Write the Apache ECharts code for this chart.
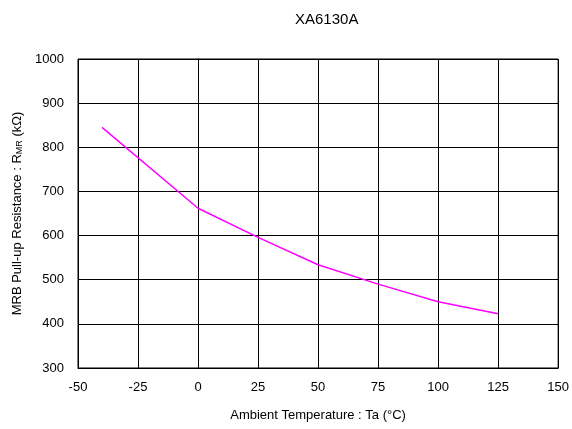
<!DOCTYPE html>
<html>
<head>
<meta charset="utf-8">
<script src="https://cdn.jsdelivr.net/npm/echarts@6/dist/echarts.min.js"></script>
<style>
  html, body { margin: 0; padding: 0; background: #fff; }
  #chart { width: 572px; height: 429px; }
</style>
</head>
<body>
<div id="chart"></div>
<script>
// temperatures (°C) and pull-up resistance (kΩ)
var temps = [-40, 0, 25, 50, 75, 100, 125];
var resist = [845, 662, 596, 534, 490, 450, 423];

var points = [];
for (var i = 0; i < temps.length; i++) {
    points.push([temps[i], resist[i]]);
}

var font = 'Liberation Sans, Arial, sans-serif';
var myChart = echarts.init(document.getElementById('chart'));

var option = {
    animation: false,
    title: {
        text: 'XA6130A',
        left: 290,
        top: 7,
        textStyle: { fontFamily: font, fontSize: 15, fontWeight: 'normal', color: '#000' }
    },
    grid: {
        left: 78, right: 13, top: 59, bottom: 61,
        show: true, borderColor: '#000', borderWidth: 1
    },
    xAxis: {
        type: 'value',
        min: -50, max: 150, interval: 25,
        name: 'Ambient Temperature : Ta (°C)',
        nameLocation: 'middle',
        nameGap: 41,
        nameTextStyle: { fontFamily: font, fontSize: 13, color: '#000' },
        axisLine: { lineStyle: { color: '#000' } },
        axisTick: { show: false },
        axisLabel: { margin: 13, fontFamily: font, fontSize: 13, color: '#000' },
        splitLine: { lineStyle: { color: '#000', width: 1 } }
    },
    yAxis: {
        type: 'value',
        min: 300, max: 1000, interval: 100,
        name: 'MRB Pull-up Resistance : R{sub|MR} (kΩ)',
        nameLocation: 'middle',
        nameGap: 53,
        nameTextStyle: {
            fontFamily: font, fontSize: 13, color: '#000',
            rich: { sub: { fontFamily: font, fontSize: 9, color: '#000', verticalAlign: 'bottom', padding: [4, 0, 0, 0] } }
        },
        axisLine: { lineStyle: { color: '#000' } },
        axisTick: { show: false },
        axisLabel: {
            margin: 14, fontFamily: font, fontSize: 13, color: '#000',
            formatter: function (v) { return String(v); }
        },
        splitLine: { lineStyle: { color: '#000', width: 1 } }
    },
    series: [{
        type: 'line',
        data: points,
        showSymbol: false,
        lineStyle: { color: '#ff00ff', width: 1.5 },
        itemStyle: { color: '#ff00ff' }
    }]
};

myChart.setOption(option);
</script>
</body>
</html>
